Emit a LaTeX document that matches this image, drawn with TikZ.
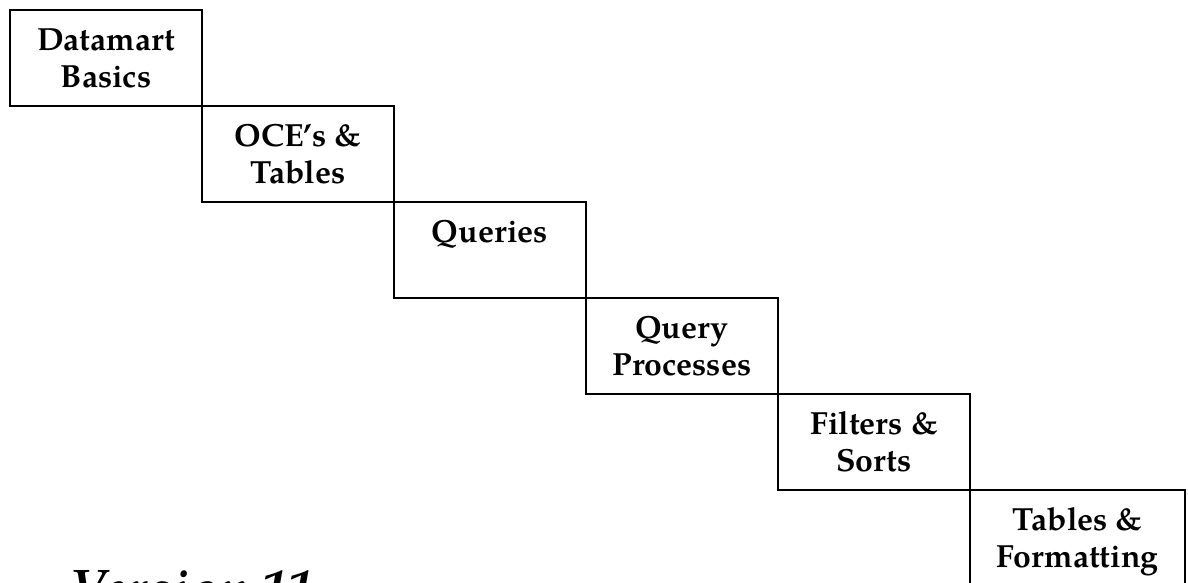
\documentclass[tikz,border=0pt]{standalone}
\usepackage{fontspec}
\setmainfont{TeX Gyre Pagella}
\begin{document}
\begin{tikzpicture}[x=1pt,y=-1pt,
  stepbox/.style={draw=black, line width=2pt, rectangle, inner sep=0pt, minimum height=96pt, anchor=north west},
  lbl/.style={align=center, inner sep=0pt, anchor=base, font=\bfseries\fontsize{32}{37}\selectfont},
  ver/.style={anchor=base west, inner sep=0pt, font=\bfseries\itshape\fontsize{53}{60}\selectfont}]
\useasboundingbox (0,0) rectangle (1188,582);
\clip (0,0) rectangle (1188,582);
\node[stepbox, minimum width=192pt] (b1) at (9,9) {};
\node[stepbox, minimum width=192pt] (b2) at (201,105) {};
\node[stepbox, minimum width=192pt] (b3) at (393,201) {};
\node[stepbox, minimum width=192pt] (b4) at (585,297) {};
\node[stepbox, minimum width=192pt] (b5) at (777,393) {};
\node[stepbox, minimum width=215pt] (b6) at (969,489) {};
\node[lbl] (t1) at ([yshift=-78pt]b1.north) {Datamart\\Basics};
\node[lbl] (t2) at ([yshift=-78pt]b2.north) {OCE’s \&\\Tables};
\node[lbl] (t3) at ([yshift=-41pt]b3.north) {Queries};
\node[lbl] (t4) at ([yshift=-78pt]b4.north) {Query\\Processes};
\node[lbl] (t5) at ([yshift=-78pt]b5.north) {Filters \&\\Sorts};
\node[lbl] (t6) at ([yshift=-78pt]b6.north) {Tables \&\\Formatting};
\node[ver] (v) at (70,606) {Version 11};
\end{tikzpicture}
\end{document}
